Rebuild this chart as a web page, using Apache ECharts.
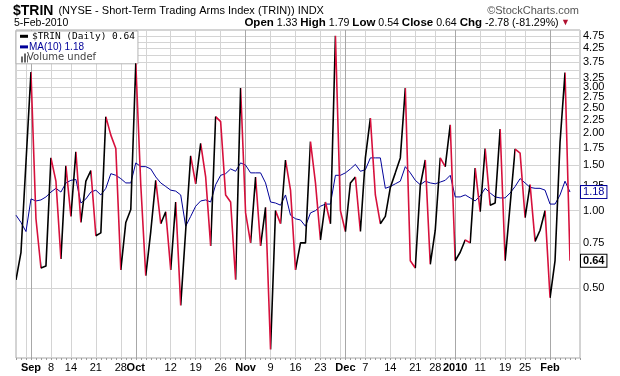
<!DOCTYPE html>
<html>
<head>
<meta charset="utf-8">
<script src="https://cdn.jsdelivr.net/npm/echarts@6/dist/echarts.min.js"></script>
<style>html,body{margin:0;padding:0;background:#fff}#chart{width:620px;height:376px}</style>
</head>
<body>
<div id="chart"></div>
<script>
// trading days, 27-Aug-2009 .. 5-Feb-2010
var dates = ['8/27','8/28','8/31',
  '9/1','9/2','9/3','9/4','9/8','9/9','9/10','9/11','9/14','9/15','9/16','9/17','9/18','9/21','9/22','9/23','9/24','9/25','9/28','9/29','9/30',
  '10/1','10/2','10/5','10/6','10/7','10/8','10/9','10/12','10/13','10/14','10/15','10/16','10/19','10/20','10/21','10/22','10/23','10/26','10/27','10/28','10/29','10/30',
  '11/2','11/3','11/4','11/5','11/6','11/9','11/10','11/11','11/12','11/13','11/16','11/17','11/18','11/19','11/20','11/23','11/24','11/25','11/27','11/30',
  '12/1','12/2','12/3','12/4','12/7','12/8','12/9','12/10','12/11','12/14','12/15','12/16','12/17','12/18','12/21','12/22','12/23','12/24','12/28','12/29','12/30','12/31',
  '1/4','1/5','1/6','1/7','1/8','1/11','1/12','1/13','1/14','1/15','1/19','1/20','1/21','1/22','1/25','1/26','1/27','1/28','1/29',
  '2/1','2/2','2/3','2/4','2/5'];

var trin = [0.54,0.69,1.54,
  3.44,0.93,0.60,0.61,1.60,1.30,0.65,1.49,0.95,1.69,0.90,1.30,1.43,0.80,0.82,2.31,1.96,1.74,0.59,0.90,1.01,
  3.72,1.26,0.56,0.83,1.31,0.89,0.99,0.59,1.08,0.43,0.84,1.63,1.27,1.82,1.35,0.73,2.31,2.21,1.15,1.08,0.54,2.98,
  0.98,0.75,1.35,0.73,1.03,0.29,1.00,0.89,1.57,1.20,0.59,0.75,0.75,1.85,1.28,0.77,1.08,0.89,4.75,1.00,
  0.83,1.28,1.35,0.83,1.60,2.28,1.15,0.89,0.95,1.23,1.40,1.60,2.98,0.64,0.60,1.25,1.57,0.62,0.84,1.60,1.48,2.15,
  0.64,0.69,0.77,0.75,1.46,0.99,1.74,1.05,1.07,2.07,0.64,1.05,1.73,1.67,0.94,1.26,0.76,0.84,1.00,
  0.46,0.64,1.84,3.42,0.64];

var ma10 = [0.96,0.90,0.83,
  1.11,1.09,1.10,1.13,1.18,1.22,1.18,1.28,1.31,1.32,1.07,1.11,1.18,1.20,1.15,1.22,1.39,1.37,1.33,1.28,1.28,
  1.53,1.48,1.48,1.45,1.35,1.28,1.24,1.20,1.19,1.15,0.87,0.95,1.04,1.09,1.10,1.08,1.26,1.37,1.39,1.45,1.42,1.53,
  1.50,1.40,1.40,1.40,1.28,1.08,1.07,1.05,1.15,0.96,0.93,0.92,0.87,0.98,1.00,1.04,1.06,1.06,1.37,1.37,
  1.40,1.45,1.51,1.42,1.44,1.60,1.60,1.60,1.22,1.24,1.27,1.30,1.48,1.40,1.31,1.26,1.30,1.28,1.27,1.29,1.31,1.37,
  1.13,1.13,1.15,1.12,1.09,1.14,1.22,1.17,1.13,1.12,1.12,1.17,1.24,1.33,1.28,1.23,1.22,1.22,1.20,
  1.06,1.06,1.15,1.30,1.18];

// horizontal grid values and the ones that get a label
var yGrid = [0.5,0.75,1,1.25,1.5,1.75,2,2.25,2.5,2.75,3,3.25,3.5,3.75,4,4.25,4.5,4.75,5];
var yLabeled = [0.5,0.75,1,1.25,1.5,1.75,2,2.25,2.5,2.75,3,3.25,3.75,4.25,4.75];

// vertical grid: first trading day of each week / month
var weekIdx = [2,7,11,16,21,26,31,36,41,51,56,61,65,70,75,80,84,93,98,102];
var monthIdx = [3,24,46,66,88,107];
var xLabelIdx = [3,7,11,16,21,24,31,36,41,46,51,56,61,66,70,75,80,84,88,93,98,102,107];
var xLabelText = ['Sep','8','14','21','28','Oct','12','19','26','Nov','9','16','23','Dec','7','14','21','28','2010','11','19','25','Feb'];

// hand drawn trend line [index, value]
var trendLine = [[78, 1.48], [113, 1.295]];

var quoteNames = ['Open','High','Low','Close','Chg'];
var quoteVals = ['1.33','1.79','0.54','0.64','-2.78 (-81.29%)'];

var chart = echarts.init(document.getElementById('chart'));
var FONT = 'Liberation Sans';

/*up day black, down day red*/
var pieces = [];
for (var i = 1; i < trin.length; i++) {
  pieces.push({gt: i - 1, lte: i, color: trin[i] >= trin[i - 1] ? '#000000' : '#d6103c'});
}

var gridLines = [];
yGrid.forEach(function(v) {
  gridLines.push({
    yAxis: v,
    label: yLabeled.indexOf(v) >= 0 ? {show: true} : {show: false}
  });
});
weekIdx.forEach(function(ix) {
  gridLines.push({xAxis: ix, lineStyle: {color: '#d4d4d4'}, label: {show: false}});
});
monthIdx.forEach(function(ix) {
  gridLines.push({xAxis: ix, lineStyle: {color: '#a8a8a8'}, label: {show: false}});
});

var quoteText = quoteNames.map(function(n, k) {
  return '{b|' + n + '} ' + quoteVals[k];
}).join(' ') + '{r| ▼}';

var last = trin.length - 1;

// legend icons share one 8x10 box
var dashIcon = 'path://M0,0M0,3.5h8v3h-8zM8,10';
var volIcon = 'path://M0,0M1,4h2v6h-2zM4,1h2v9h-2zM7,3h1v7h-1zM8,10';

var option = {
  animation: false,
  textStyle: {fontFamily: FONT},
  title: [{
    left: 13, top: 2, padding: 0,
    text: '{b|$TRIN} {n|(NYSE - Short-Term Trading Arms Index (TRIN)) INDX}',
    textStyle: {fontWeight: 'normal', rich: {
      b: {fontSize: 14, fontWeight: 'bold', color: '#000', fontFamily: FONT},
      n: {fontSize: 11, fontWeight: 'normal', color: '#000', fontFamily: FONT}
    }}
  }, {
    left: 14, top: 18, padding: 0, text: '5-Feb-2010',
    textStyle: {fontSize: 10.5, fontWeight: 'normal', color: '#000', fontFamily: FONT}
  }, {
    right: 41, top: 5, padding: 0, text: '©StockCharts.com',
    textStyle: {fontSize: 11, fontWeight: 'normal', color: '#555', fontFamily: FONT}
  }, {
    right: 50, top: 17, padding: 0, text: quoteText,
    textStyle: {rich: {
      b: {fontSize: 11.5, fontWeight: 'bold', color: '#000', fontFamily: FONT},
      r: {fontSize: 9, color: '#b01030', fontFamily: FONT}
    }, fontSize: 10.6, fontWeight: 'normal', color: '#000', fontFamily: FONT}
  }],
  legend: {
    left: 16, top: 31, orient: 'vertical',
    itemGap: 0, itemWidth: 8, itemHeight: 10,
    padding: [0, 3, 1, 4],
    backgroundColor: '#fff', borderColor: '#b4b4b4', borderWidth: 1,
    selectedMode: false,
    textStyle: {fontSize: 9.5, lineHeight: 10.6, fontFamily: 'DejaVu Sans Mono', padding: [0, 0, 0, -1]},
    formatter: function(name) {
      if (name === '$TRIN (Daily)') return name + ' ' + trin[last].toFixed(2);
      if (name === 'MA(10)') return name + ' ' + ma10[last].toFixed(2);
      return name;
    },
    data: [
      {name: '$TRIN (Daily)', icon: dashIcon, itemStyle: {color: '#000'}, textStyle: {color: '#000'}},
      {name: 'MA(10)', icon: dashIcon, itemStyle: {color: '#000099'},
        textStyle: {color: '#000099', fontFamily: FONT, fontSize: 10, padding: [0, 0, 0, -4]}},
      {name: 'Volume undef', icon: volIcon,
        itemStyle: {color: '#666'}, textStyle: {color: '#444', fontFamily: 'DejaVu Sans', fontSize: 10, padding: [0, 0, 0, -6]}}
    ]
  },
  grid: {left: 16, right: 40, top: 30, bottom: 18, show: true, borderColor: '#a8a8a8', borderWidth: 1},
  xAxis: {
    type: 'category', data: dates, boundaryGap: false, max: 113,
    axisLine: {show: false},
    axisTick: {show: true, interval: 0, length: 2, lineStyle: {color: '#999'}},
    splitLine: {show: false},
    axisLabel: {
      interval: function(idx) { return xLabelIdx.indexOf(idx) >= 0; },
      formatter: function(v, idx) {
        var k = xLabelIdx.indexOf(idx);
        if (k < 0) return '';
        var t = xLabelText[k];
        return isNaN(+t) || t === '2010' ? '{m|' + t + '}' : t;
      },
      margin: 4, fontSize: 11, color: '#000', fontFamily: FONT,
      rich: {m: {fontSize: 11, fontWeight: 'bold', color: '#000', fontFamily: FONT}}
    }
  },
  yAxis: {
    type: 'log', position: 'right', min: 0.269, max: 5,
    axisLine: {show: false}, axisTick: {show: false}, axisLabel: {show: false}, splitLine: {show: false}
  },
  visualMap: {show: false, seriesIndex: 0, dimension: 0, pieces: pieces},
  series: [{
    name: '$TRIN (Daily)', type: 'line', data: trin, showSymbol: false, z: 4,
    lineStyle: {width: 1.6},
    endLabel: {
      show: true, distance: 11,
      formatter: function(p) { return p.value.toFixed(2); },
      fontSize: 11, fontWeight: 'bold', color: '#000', fontFamily: FONT,
      backgroundColor: '#fff', borderColor: '#000', borderWidth: 1, padding: [1, 2, 0, 2]
    },
    markLine: {
      silent: true, symbol: 'none', z: 6,
      lineStyle: {color: '#666', width: 3, type: 'solid'},
      label: {show: false},
      data: [[{coord: trendLine[0]}, {coord: trendLine[1]}]]
    }
  }, {
    name: 'MA(10)', type: 'line', data: ma10, showSymbol: false, z: 3,
    lineStyle: {width: 1, color: '#000099'}, itemStyle: {color: '#000099'},
    endLabel: {
      show: true, distance: 11,
      formatter: function(p) { return p.value.toFixed(2); },
      fontSize: 11, color: '#000099', fontFamily: FONT,
      backgroundColor: '#fff', borderColor: '#000099', borderWidth: 1, padding: [1, 2, 0, 2]
    },
    markLine: {
      silent: true, symbol: 'none', z: 1,
      lineStyle: {color: '#d4d4d4', width: 1, type: 'solid'},
      label: {
        position: 'end', distance: 3, fontSize: 11, color: '#000', fontFamily: FONT,
        formatter: function(p) { return (+p.value).toFixed(2); }
      },
      data: gridLines
    }
  }, {
    name: 'Volume undef', type: 'bar', data: []
  }]
};
chart.setOption(option);
</script>
</body>
</html>
